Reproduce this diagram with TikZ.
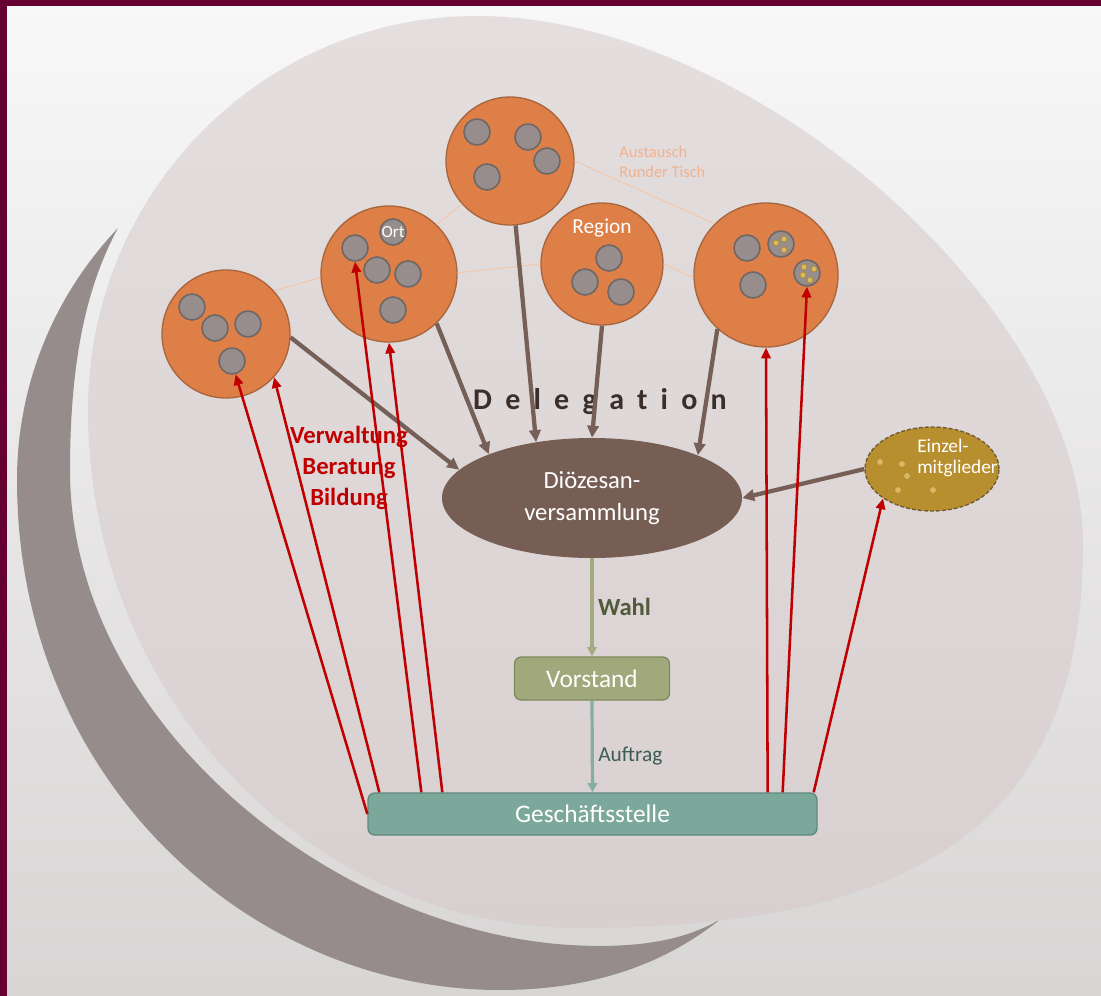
\documentclass[tikz,border=0pt]{standalone}
\usepackage{fontspec}
\setmainfont{Carlito}
\usetikzlibrary{arrows.meta,shapes.geometric}
\definecolor{rahmen}{HTML}{660033}
\definecolor{hgoben}{HTML}{F8F8F8}
\definecolor{hgunten}{HTML}{D8D5D5}
\definecolor{sichel}{HTML}{968C8B}
\definecolor{flaecheoben}{HTML}{E4DEDF}
\definecolor{flaecheunten}{HTML}{D8CFD0}
\definecolor{orangefill}{HTML}{DD7F47}
\definecolor{kreisrand}{HTML}{A9653C}
\definecolor{graufill}{HTML}{968D8C}
\definecolor{graurand}{HTML}{6F6766}
\definecolor{punktfill}{HTML}{DDB860}
\definecolor{punktrand}{HTML}{AE8C38}
\definecolor{dvbraun}{HTML}{765E55}
\definecolor{pfeilbraun}{HTML}{765F57}
\definecolor{vsgruen}{HTML}{A1A87B}
\definecolor{vsrand}{HTML}{7F8A5C}
\definecolor{gsgruen}{HTML}{7CA79B}
\definecolor{gsrand}{HTML}{5C8A7D}
\definecolor{einzelgold}{HTML}{B88F2E}
\definecolor{einzelrand}{HTML}{6E5A2E}
\definecolor{rot}{HTML}{C00000}
\definecolor{wahlpf}{HTML}{A3AC80}
\definecolor{auftragpf}{HTML}{85ADA3}
\definecolor{wahltext}{HTML}{4F5B39}
\definecolor{auftragtext}{HTML}{3D5C52}
\definecolor{tauschtext}{HTML}{F0B38E}
\definecolor{tauschlinie}{HTML}{F5C6A6}
\definecolor{delegtext}{HTML}{3B2F2B}
\begin{document}
\begin{tikzpicture}[x=0.75pt,y=0.75pt,yscale=-1,xscale=1,
  kreis/.style={circle,draw=kreisrand,fill=orangefill,line width=1pt,inner sep=0pt},
  gruppe/.style={circle,draw=graurand,fill=graufill,line width=1.2pt,minimum size=19.5pt,inner sep=0pt},
  punkt/.style={draw=punktrand,fill=punktfill,line width=0.6pt},
  deleg/.style={draw=pfeilbraun,line width=3.2pt,-{Triangle[length=9pt,width=8.5pt]}},
  bezug/.style={draw=rot,line width=1.9pt,-{Triangle[length=8pt,width=7pt]}},
  tausch/.style={draw=tauschlinie,line width=0.7pt},
  kasten/.style={rectangle,rounded corners=5pt,line width=1pt,text=white,font=\fontsize{19}{23}\selectfont}]
        \useasboundingbox (0,0) rectangle (1101,996);
        \shade[top color=hgoben,bottom color=hgunten] (0,0) rectangle (1101,996);
        \fill[rahmen] (0,0) rectangle (1101,6);
        \fill[rahmen] (0,0) rectangle (7,996);
        % Sichel
        \fill[sichel] (118,228) .. controls (50,300) and (17,390) .. (17,480) .. controls (17,780) and (250,990) .. (500,990) .. controls (600,990) and (670,960) .. (722,918)
              .. controls (680,945) and (620,948) .. (570,945) .. controls (330,930) and (70,720) .. (70,470) .. controls (70,350) and (90,280) .. (118,228) -- cycle;
        % Flaeche
        \shade[top color=flaecheoben,bottom color=flaecheunten] (477,16) .. controls (750,16) and (1083,307) .. (1083,545) .. controls (1083,813) and (932,928) .. (580,928) .. controls (308,928) and (88,696) .. (88,410) .. controls (88,193) and (262,16) .. (477,16) -- cycle;
        % Kreise
        \node[kreis,minimum size=96pt] (k1) at (226,334) {};
        \node[kreis,minimum size=102pt] (k2) at (389,274) {};
        \node[kreis,minimum size=96pt] (k3) at (510,161) {};
        \node[kreis,minimum size=91.5pt] (k4) at (602,264) {};
        \node[kreis,minimum size=108pt] (k5) at (766,275) {};
        \draw[tausch] (k1.42) -- (k2.183);
        \draw[tausch] (k2.46) -- (k3.222);
        \draw[tausch] (k2.1) -- (k4.180);
        \draw[tausch] (k3.0) -- (k5.135);
        \draw[tausch] (k4.0) -- (k5.182);
        \node[gruppe] (k1a) at (192,307) {};
        \node[gruppe] (k1b) at (215,328) {};
        \node[gruppe] (k1c) at (248,324) {};
        \node[gruppe] (k1d) at (232,361) {};
        \node[gruppe] (k2a) at (355,248) {};
        \node[gruppe,text=white,font=\fontsize{12.8}{14}\selectfont] (k2b) at (393,232) {Ort};
        \node[gruppe] (k2c) at (377,270) {};
        \node[gruppe] (k2d) at (408,274) {};
        \node[gruppe] (k2e) at (393,310) {};
        \node[gruppe] (k3a) at (477,132) {};
        \node[gruppe] (k3b) at (528,137) {};
        \node[gruppe] (k3c) at (547,161) {};
        \node[gruppe] (k3d) at (487,177) {};
        \node[text=white,font=\fontsize{16}{18}\selectfont] (region) at (602,228) {Region};
        \node[gruppe] (k4a) at (609,258) {};
        \node[gruppe] (k4b) at (585,282) {};
        \node[gruppe] (k4c) at (621,292) {};
        \node[gruppe] (k5a) at (747,248) {};
        \node[gruppe] (k5b) at (781,244) {};
        \node[gruppe] (k5c) at (807,273) {};
        \node[gruppe] (k5d) at (753,285) {};
        \filldraw[punkt] (776,243) circle (3) (784,239) circle (3) (784,250) circle (3);
        \filldraw[punkt] (804,267) circle (3) (814,269) circle (3) (803,275) circle (3) (810,280) circle (3);
        \node[text=tauschtext,align=left,anchor=west,inner sep=0pt,font=\fontsize{12.3}{14.5}\selectfont] (tauschtxt) at (619,162) {Austausch\\Runder Tisch};
        % Mitte
        \node[ellipse,fill=dvbraun,minimum width=225pt,minimum height=90pt,inner sep=0pt,text=white,align=center,font=\fontsize{18.5}{23.5}\selectfont] (dv) at (592,498) {Diözesan-\\versammlung};
        \node[ellipse,draw=einzelrand,dash pattern=on 3pt off 1.5pt,fill=einzelgold,line width=1pt,minimum width=100.5pt,minimum height=63pt] (ez) at (932,469) {};
        \filldraw[punkt] (880,462) circle (3.5) (902,464) circle (3.5) (907,476) circle (3.5) (898,490) circle (3.5) (933,490) circle (3.5);
        \node[text=white,align=left,anchor=west,inner sep=0pt,font=\fontsize{14.5}{16}\selectfont] (eztxt) at (917,458) {Einzel-\\mitglieder};
        \node[kasten,fill=vsgruen,draw=vsrand,minimum width=116.25pt,minimum height=32.25pt] (vs) at (592,678.5) {Vorstand};
        \node[kasten,fill=gsgruen,draw=gsrand,minimum width=336.75pt,minimum height=31.5pt] (gs) at (592.5,814) {Geschäftsstelle};
        \node[text=delegtext,font=\bfseries\fontsize{22.5}{26}\selectfont\addfontfeatures{LetterSpace=44,Ligatures=NoCommon}] (delegation) at (600,402) {Delegation};
        % Delegation
        \draw[deleg] (k1.-3) -- (dv.168);
        \draw[deleg] (k2.-46) -- (dv.157);
        \draw[deleg] (k3.-85) -- (dv.135);
        \draw[deleg] (k4.south) -- (dv.north);
        \draw[deleg] (k5.228) -- (dv.22);
        \draw[deleg] (ez.west) -- (dv.east);
        \draw[draw=wahlpf,line width=2.4pt,-{Triangle[length=7pt,width=7pt]}] (dv.south) -- (vs.north) node[pos=0.5,right,text=wahltext,font=\bfseries\fontsize{18.5}{22}\selectfont] {Wahl};
        \draw[draw=auftragpf,line width=2.4pt,-{Triangle[length=7pt,width=7pt]}] (vs.south) -- (gs.north) node[pos=0.6,right,text=auftragtext,font=\fontsize{16}{19}\selectfont] {Auftrag};
        % Geschaeftsstelle
        \draw[bezug] (gs.west) -- (k1d.-75);
        \draw[bezug] ([xshift=9pt]gs.north west) -- (k1.-42);
        \draw[bezug] ([xshift=40.5pt]gs.north west) -- (k2a.south);
        \draw[bezug] ([xshift=56.25pt]gs.north west) -- (k2.south);
        \draw[bezug] ([xshift=-37.5pt]gs.north east) -- (k5.south);
        \draw[bezug] ([xshift=-26.25pt]gs.north east) -- (k5c.south);
        \draw[bezug] ([xshift=-3pt]gs.north east) -- (ez.211);
        \node[text=rot,align=center,font=\bfseries\fontsize{18.5}{23}\selectfont] (vbb) at (349,468) {Verwaltung\\Beratung\\Bildung};
\end{tikzpicture}
\end{document}
